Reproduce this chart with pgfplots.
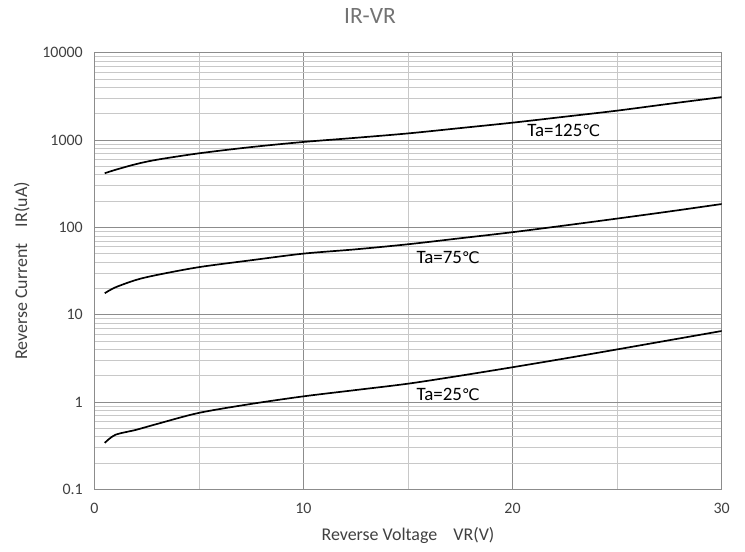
\documentclass[border=0pt]{standalone}
\usepackage{pgfplots}
\pgfplotsset{compat=1.18}
\usepackage{fontspec}
\setmainfont{Carlito}
\newfontfamily\dv{DejaVu Sans}
\newcommand{\degC}{{\dv\fontsize{16}{18}\selectfont ℃}}
\definecolor{majgrid}{HTML}{8C8C8C}
\definecolor{mingrid}{HTML}{C8C8C8}
\definecolor{txt}{HTML}{404040}
\begin{document}
\begin{tikzpicture}
\useasboundingbox (0,0) rectangle (745bp,552bp);
\node[text=black!55, font=\fontsize{23.5}{28}\selectfont] at (370bp,536bp) {IR-VR};
\begin{axis}[
    at={(94.3bp,62.7bp)}, anchor=south west,
    scale only axis,
    width=627.4bp, height=436.6bp,
    xmin=0, xmax=30,
    ymode=log, ymin=0.1, ymax=10000,
    xtick={0,10,20,30},
    minor x tick num=1,
    ytick={0.1,1,10,100,1000,10000},
    yticklabels={0.1,1,10,100,1000,10000},
    grid=both,
    major grid style={majgrid, line width=0.7pt},
    minor grid style={mingrid, line width=0.6pt},
    axis line style={majgrid, line width=0.8pt},
    tick style={draw=none},
    /pgf/number format/assume math mode=true,
    ticklabel style={font=\fontsize{16}{18}\selectfont, text=txt},
    xticklabel style={yshift=-10bp},
    yticklabel style={xshift=-8bp},
    xlabel={Reverse Voltage\ \ \ \ VR(V)},
    ylabel={Reverse Current\ \ \ \ IR(uA)},
    label style={font=\fontsize{18}{21}\selectfont, text=txt},
    xlabel style={yshift=-7bp},
    ylabel style={yshift=6bp},
]
\addplot[black, line width=1.7pt, smooth] coordinates {
  (0.5,416) (1,455) (2,530) (3,595) (5,704) (7.5,830) (10,950)
  (12.5,1060) (15,1190) (17.5,1370) (20,1580) (22.5,1850) (25,2170)
  (27.5,2600) (30,3100)};
\addplot[black, line width=1.7pt, smooth] coordinates {
  (0.5,17.6) (1,20.5) (2,25) (3,28.5) (5,35) (7.5,42) (10,50)
  (12.5,56) (15,64) (17.5,75) (20,88) (22.5,105) (25,126)
  (27.5,152) (30,185)};
\addplot[black, line width=1.7pt, smooth] coordinates {
  (0.5,0.34) (1,0.42) (2,0.48) (3,0.56) (5,0.75) (7.5,0.95) (10,1.16)
  (12.5,1.37) (15,1.62) (17.5,2.0) (20,2.5) (22.5,3.15) (25,4.0)
  (27.5,5.1) (30,6.5)};
\node[anchor=west, inner sep=0pt, font=\fontsize{19}{22}\selectfont] at (axis cs:20.7,1300) {Ta=125\degC};
\node[anchor=west, inner sep=0pt, font=\fontsize{19}{22}\selectfont] at (axis cs:15.4,45) {Ta=75\degC};
\node[anchor=west, inner sep=0pt, font=\fontsize{19}{22}\selectfont] at (axis cs:15.4,1.21) {Ta=25\degC};
\end{axis}
\end{tikzpicture}
\end{document}
